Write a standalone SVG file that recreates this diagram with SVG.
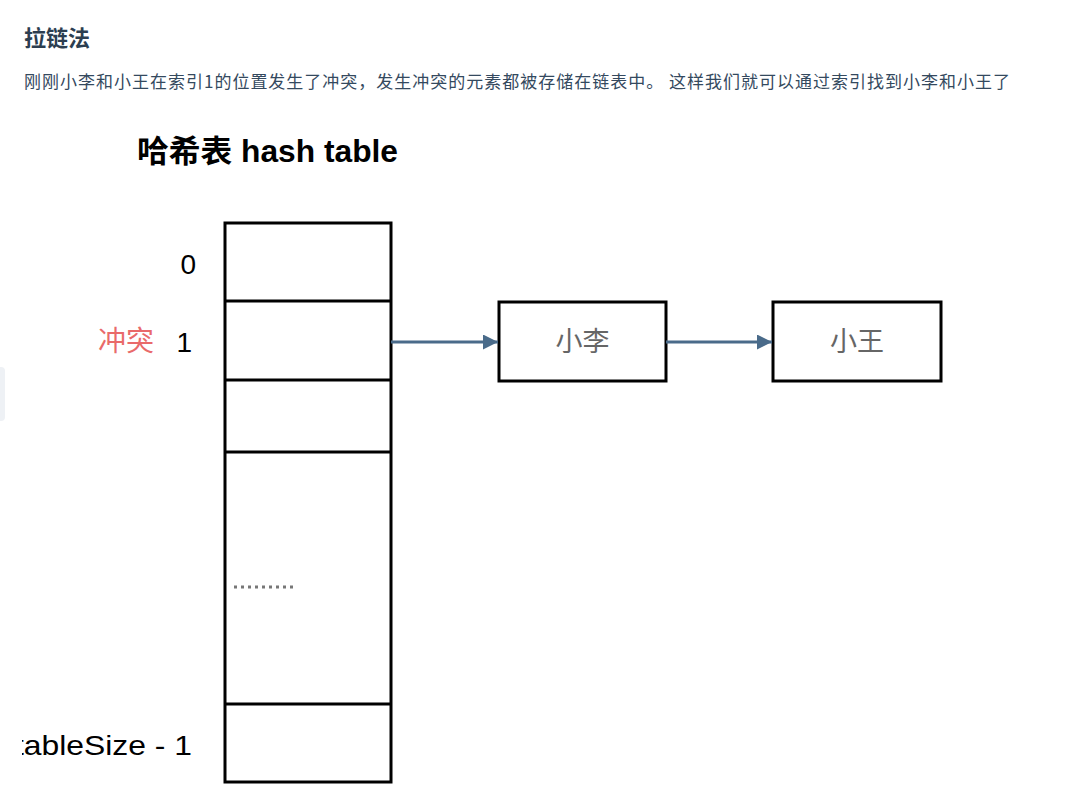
<svg xmlns="http://www.w3.org/2000/svg" width="1074" height="806" viewBox="0 0 1074 806">
  <style>
    .cell { fill: #ffffff; stroke: #000000; stroke-width: 3; }
    .sep { stroke: #000000; stroke-width: 3; }
    .lbl { font-family: "Liberation Sans", "Noto Sans CJK SC", sans-serif; font-size: 28px; fill: #000000; }
    .cjk { font-family: "Noto Sans CJK SC", "Liberation Sans", sans-serif; }
    .node-text { font-family: "Noto Sans CJK SC", sans-serif; font-size: 27px; fill: #666666; text-anchor: middle; }
    .conn { stroke: #4a6b8a; stroke-width: 3; fill: none; }
  </style>
  <defs>
    <marker id="arrow" viewBox="0 0 10 10" refX="10" refY="5" markerWidth="5" markerHeight="5" orient="auto" markerUnits="strokeWidth">
      <path d="M0,0 L10,5 L0,10 z" fill="#4a6b8a"/>
    </marker>
    <clipPath id="leftClip">
      <rect x="22" y="0" width="1052" height="806"/>
    </clipPath>
  </defs>
  <rect width="1074" height="806" fill="#ffffff"/>

  <g id="page-text">
    <text x="24" y="46" font-family="Noto Sans CJK SC, sans-serif" font-size="22" font-weight="bold" fill="#2c3e50">拉链法</text>
    <text x="24" y="88" font-family="Noto Sans CJK SC, sans-serif" font-size="17" fill="#34495e" textLength="986" lengthAdjust="spacing">刚刚小李和小王在索引1的位置发生了冲突，发生冲突的元素都被存储在链表中。 这样我们就可以通过索引找到小李和小王了</text>
    <rect x="-6" y="367" width="11" height="54" rx="4" fill="#eef1f5"/>
  </g>

  <g id="title">
    <text x="137" y="162" font-family="Liberation Sans, Noto Sans CJK SC, sans-serif" font-size="31" font-weight="bold" fill="#000000" textLength="261" lengthAdjust="spacingAndGlyphs">哈希表 hash table</text>
  </g>

  <g id="hash-table">
    <rect class="cell" x="225" y="223" width="166" height="559"/>
    <line class="sep" x1="225" y1="301" x2="391" y2="301"/>
    <line class="sep" x1="225" y1="380" x2="391" y2="380"/>
    <line class="sep" x1="225" y1="452" x2="391" y2="452"/>
    <line class="sep" x1="225" y1="704" x2="391" y2="704"/>
    <line x1="234" y1="587" x2="294" y2="587" stroke="#777777" stroke-width="3" stroke-dasharray="3 4" />
  </g>

  <g id="labels">
    <text class="lbl" x="196" y="274" text-anchor="end">0</text>
    <text class="lbl" x="192" y="352" text-anchor="end">1</text>
    <text class="lbl cjk" x="154" y="351" text-anchor="end" style="fill:#e96a6a">冲突</text>
    <g clip-path="url(#leftClip)">
      <text class="lbl" x="15" y="755" textLength="177" lengthAdjust="spacingAndGlyphs">tableSize - 1</text>
    </g>
  </g>

  <g id="node-xiaoli">
    <rect class="cell" x="499" y="302" width="167" height="79"/>
    <text class="node-text" x="582.5" y="351">小李</text>
  </g>

  <g id="node-xiaowang">
    <rect class="cell" x="773" y="302" width="168" height="79"/>
    <text class="node-text" x="857" y="351">小王</text>
  </g>

  <g id="connectors">
    <line class="conn" x1="391" y1="342" x2="498" y2="342" marker-end="url(#arrow)"/>
    <line class="conn" x1="666" y1="342" x2="772" y2="342" marker-end="url(#arrow)"/>
  </g>
</svg>
